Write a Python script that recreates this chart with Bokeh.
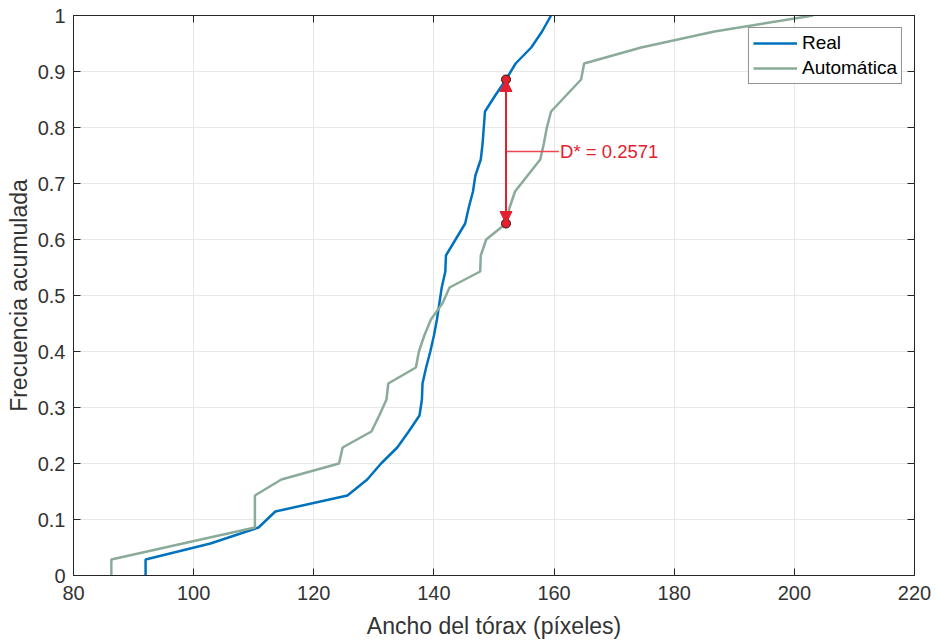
from bokeh.plotting import figure
from bokeh.models import (LinearAxis, Range1d, Arrow, NormalHead, Label, Legend,
                          LegendItem, FixedTicker)
from bokeh.embed import file_html
from bokeh.resources import INLINE

# ---- data ----
real_x = [92.0, 92.0, 102.8, 110.8, 113.6, 125.6, 128.9, 131.2, 133.9, 135.8, 137.6,
          138.0, 138.1, 138.7, 139.4, 140.0, 140.5, 140.9, 141.3, 141.9, 142.0,
          143.6, 145.2, 145.8, 146.5, 146.9, 147.8, 148.1, 148.3, 148.5, 150.2,
          152.0, 153.6, 156.2, 158.0, 159.5]
auto_x = [86.3, 86.3, 98.2, 110.2, 110.2, 110.2, 114.6, 124.2, 124.8, 129.6, 130.9,
          132.1, 132.4, 137.0, 137.5, 138.4, 139.5, 141.4, 142.6, 147.7, 147.8,
          148.7, 152.0, 152.6, 153.5, 155.6, 157.7, 158.3, 158.8, 159.5, 162.0,
          164.5, 165.0, 174.5, 186.7, 203.1]
n = 35
ecdf_y = [0.0] + [k / n for k in range(1, n + 1)]

ks_x = 152.0
ks_y_real = 31 / 35
ks_y_auto = 22 / 35
ks_text = "D* = 0.2571"

x_ticks = [80, 100, 120, 140, 160, 180, 200, 220]
y_ticks = [0, 0.1, 0.2, 0.3, 0.4, 0.5, 0.6, 0.7, 0.8, 0.9, 1]

series_names = ["Real", "Automática"]
x_label = "Ancho del tórax (píxeles)"
y_label = "Frecuencia acumulada"

# ---- styles ----
BLUE = "#0072BD"
GREEN = "#8AAB99"
RED = "#E3202F"
AX = "#262626"
TXT = "#333333"
FONT = "Liberation Sans"

p = figure(frame_width=841, frame_height=560,
           x_range=Range1d(80, 220), y_range=Range1d(0, 1),
           output_backend="svg", toolbar_location=None,
           min_border_left=73, min_border_right=20, min_border_top=15,
           min_border_bottom=68, background_fill_color="white",
           border_fill_color="white")

p.outline_line_color = AX
p.outline_line_width = 1

xt = FixedTicker(ticks=x_ticks)
yt = FixedTicker(ticks=y_ticks)

for ax in p.xaxis:
    ax.ticker = xt
for ax in p.yaxis:
    ax.ticker = yt
    ax.major_label_overrides = {0: "0", 1: "1"}

for ax in list(p.xaxis) + list(p.yaxis):
    ax.major_tick_in = 7
    ax.major_tick_out = 0
    ax.minor_tick_line_color = None
    ax.axis_line_color = AX
    ax.major_tick_line_color = AX
    ax.major_label_text_font = FONT
    ax.major_label_text_font_size = "20px"
    ax.major_label_text_color = TXT
    ax.axis_label_text_font = FONT
    ax.axis_label_text_font_size = "23px"
    ax.axis_label_text_font_style = "normal"
    ax.axis_label_text_color = TXT

p.xaxis.axis_label = x_label
p.yaxis.axis_label = y_label
p.xaxis.major_label_standoff = 10
p.xaxis.axis_label_standoff = 10
p.yaxis.major_label_standoff = 8
p.yaxis.axis_label_standoff = 3

top = LinearAxis(ticker=xt, major_tick_in=7, major_tick_out=0,
                 minor_tick_line_color=None, axis_line_color=AX,
                 major_tick_line_color=AX, major_label_text_font_size="1px",
                 major_label_text_color=None, major_label_standoff=0)
right = LinearAxis(ticker=yt, major_tick_in=7, major_tick_out=0,
                   minor_tick_line_color=None, axis_line_color=AX,
                   major_tick_line_color=AX, major_label_text_font_size="1px",
                   major_label_text_color=None, major_label_standoff=0)
p.add_layout(top, "above")
p.add_layout(right, "right")

p.xgrid.ticker = xt
p.ygrid.ticker = yt
p.grid.grid_line_color = "#E8E8E8"
p.grid.grid_line_width = 1

r_real = p.line(real_x, ecdf_y, line_color=BLUE, line_width=2.5)
r_auto = p.line(auto_x, ecdf_y, line_color=GREEN, line_width=2.5)

# KS annotation
mid = (ks_y_real + ks_y_auto) / 2
p.line([ks_x, 160.8], [mid, mid], line_color="#EE4652", line_width=1.5)
p.add_layout(Arrow(x_start=ks_x, y_start=ks_y_auto, x_end=ks_x, y_end=ks_y_real,
                   line_color=RED, line_width=2,
                   start=NormalHead(size=12, fill_color=RED, line_color=RED),
                   end=NormalHead(size=12, fill_color=RED, line_color=RED)))
p.scatter([ks_x, ks_x], [ks_y_real, ks_y_auto], size=9, fill_color=RED,
          line_color="#3a1010", line_width=1)
p.add_layout(Label(x=161.0, y=mid, text=ks_text, text_baseline="alphabetic",
                   text_align="left", text_font=FONT, text_font_size="18.5px",
                   text_color=RED))

legend = Legend(items=[LegendItem(label=series_names[0], renderers=[r_real]),
                       LegendItem(label=series_names[1], renderers=[r_auto])],
                location="top_right", margin=12, padding=4, spacing=3,
                label_height=22, glyph_height=22, glyph_width=44,
                label_standoff=5, label_text_font=FONT,
                label_text_font_size="19px", label_text_color="black",
                border_line_color=AX, border_line_width=1,
                background_fill_color="white", background_fill_alpha=1)
p.add_layout(legend)

open("out.html", "w").write(file_html(p, INLINE))
